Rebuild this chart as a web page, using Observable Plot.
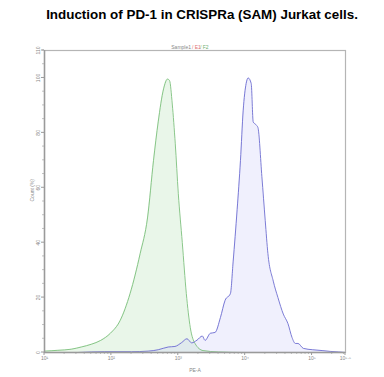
<!DOCTYPE html>
<html><head><meta charset="utf-8">
<script src="https://cdn.jsdelivr.net/npm/d3@7"></script>
<script src="https://cdn.jsdelivr.net/npm/@observablehq/plot@0.6"></script>
<style>
body{margin:0;background:#fff;font-family:"Liberation Sans",Arial,sans-serif;}
#title{height:30px;line-height:30px;text-align:center;font-weight:bold;font-size:13.4px;color:#000;padding-left:20px;}
</style></head>
<body>
<div id="title">Induction of PD-1 in CRISPRa (SAM) Jurkat cells.</div>
<div id="chart"></div>
<script>
// control (green) histogram: log10(PE-A), count %
const greenLog = [1.0,1.2,1.4,1.55,1.7,1.84,1.985,2.13,2.28,2.43,2.54,2.63,2.70,2.78,2.84,2.87,2.91,2.955,3.0,3.06,3.12,3.18,3.25,3.37,3.6,4.0];
const greenVal = [0.5,0.8,1.2,2,3,4.4,7,11.6,21.5,36,49,70,84,96,99.6,99,90.5,76,58,40,21.5,9,3.3,0.7,0.2,0];
// PD-1 activated (blue) histogram
const blueLog = [1.5,1.9,2.3,2.55,2.7,2.85,2.95,3.05,3.13,3.2,3.28,3.36,3.40,3.48,3.55,3.63,3.70,3.78,3.82,3.88,3.93,3.97,4.015,4.045,4.09,4.12,4.16,4.19,4.25,4.30,4.34,4.42,4.49,4.57,4.64,4.70,4.75,4.79,4.87,5.01,5.15,5.27,5.4,5.5];
const blueVal = [0,0.3,0.3,0.5,1,2,2.2,3.6,5,3.5,4.5,6,4.4,7,7.3,12.7,19,21.5,33,52,70,88,98,100,98,84,83,82,64,48,36,26,20,14,10.5,5.5,3.3,3.3,1.5,1,0.7,0.4,0.2,0];
const xTickExp = [1,2,3,4,5,5.5];
const xTickLabels = ["10¹","10²","10³","10⁴","10⁵","10⁵·⁵"];
const yTicks = [0,20,40,60,80,100,110];
const yTickLabels = ["0","20","40","60","80","100","110"];
const sampleParts = ["Sample1","/ E1","/ F2"];

const green = greenLog.map((l,i)=>({x:10**l,y:greenVal[i]}));
const blue = blueLog.map((l,i)=>({x:10**l,y:blueVal[i]}));
const xTicks = xTickExp.map(e=>10**e);
const xMinor = [];
for (let d=1; d<=5; d++) for (let k=2; k<=9; k++) { const v=k*10**d; if (v<10**5.5) xMinor.push(v); }
const yMinor = d3.range(0,111,5).filter(v=>v%20!==0);

const axisColor = "#9a9a9a";
const chart = Plot.plot({
  width: 384, height: 347,
  marginLeft: 44, marginRight: 39, marginTop: 20, marginBottom: 25,
  style: {fontFamily: "Liberation Sans, Arial, sans-serif", background: "#fff"},
  x: {type: "log", domain: [10, 10**5.5], axis: null},
  y: {domain: [0, 110], axis: null},
  marks: [
    Plot.areaY(green, {x: "x", y: "y", fill: "rgb(200,232,200)", fillOpacity: 0.4, curve: "monotone-x"}),
    Plot.areaY(blue, {x: "x", y: "y", fill: "rgb(205,205,250)", fillOpacity: 0.3, curve: "monotone-x"}),
    Plot.lineY(green, {x: "x", y: "y", stroke: "#7cc07c", strokeWidth: 0.9, curve: "monotone-x"}),
    Plot.lineY(blue, {x: "x", y: "y", stroke: "#6c6cd0", strokeWidth: 0.9, curve: "monotone-x"}),
    Plot.frame({stroke: "#b5b5b5", strokeWidth: 1.2}),
    Plot.ruleY([0], {stroke: axisColor, strokeWidth: 1.5}),
    Plot.ruleX([10], {stroke: axisColor, strokeWidth: 1.5}),
    Plot.text(yTicks, {x: 10, y: d=>d, text: (d,i)=>yTickLabels[i], rotate: -90, dx: -6, fontSize: 5, fill: "#888"}),
    Plot.text(xTicks, {x: d=>d, y: 0, text: (d,i)=>xTickLabels[i], dy: 6, fontSize: 5, fill: "#888"}),
    Plot.text(["Count (%)"], {frameAnchor: "left", rotate: -90, dx: -12, fontSize: 5, fill: "#888"}),
    Plot.text(["PE-A"], {frameAnchor: "bottom", dy: 19, fontSize: 5, fill: "#888"}),
    Plot.text([sampleParts[0]], {frameAnchor: "top", dy: -5, dx: -4, textAnchor: "end", fontSize: 5, fill: "#888"}),
    Plot.text([sampleParts[1]], {frameAnchor: "top", dy: -5, dx: -3, textAnchor: "start", fontSize: 5, fill: "#e07070"}),
    Plot.text([sampleParts[2]], {frameAnchor: "top", dy: -5, dx: 5, textAnchor: "start", fontSize: 5, fill: "#70b070"})
  ]
});
const sx = chart.scale("x"), sy = chart.scale("y");
document.getElementById("chart").appendChild(chart);
const svg = d3.select(chart);
function ticks(data, horiz, len, w) {
  svg.append("g").selectAll("line").data(data).join("line")
    .attr("x1", d=>horiz ? sx.apply(d) : sx.apply(10))
    .attr("x2", d=>horiz ? sx.apply(d) : sx.apply(10)-len)
    .attr("y1", d=>horiz ? sy.apply(0) : sy.apply(d))
    .attr("y2", d=>horiz ? sy.apply(0)+len : sy.apply(d))
    .attr("stroke", axisColor).attr("stroke-width", w);
}
ticks(xMinor, true, 2, 0.6);
ticks(xTicks, true, 3, 1);
ticks(yMinor, false, 2, 0.6);
ticks(yTicks, false, 3, 1);
</script>
</body></html>
